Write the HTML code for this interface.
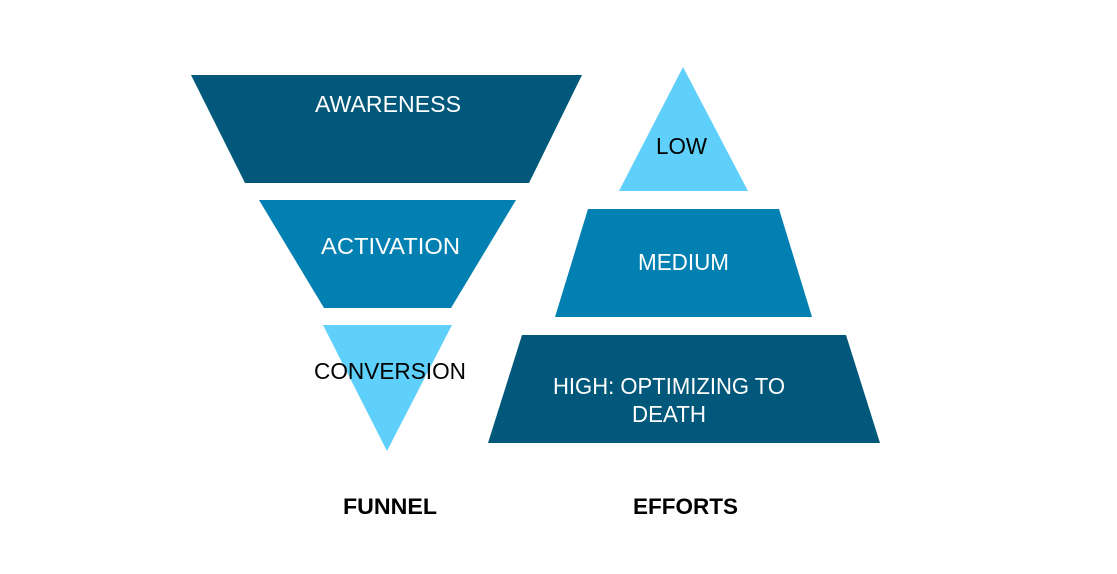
<!DOCTYPE html>
<html><head><meta charset="utf-8"><style>html,body{margin:0;padding:0;background:#fff}svg{display:block}</style></head>
<body>
<svg width="1117" height="574" viewBox="0 0 1117 574" xmlns="http://www.w3.org/2000/svg" font-family="Liberation Sans, Arial, sans-serif">
<rect width="1117" height="574" fill="#fff"/>
<polygon points="191,75 582,75 529,183 245,183" fill="#02587a"/>
<polygon points="259,200 516,200 451,308 324,308" fill="#0280b1"/>
<polygon points="323,325 452,325 387,451" fill="#5ed0fb"/>
<polygon points="683,67 748,191 619,191" fill="#5ed0fb"/>
<polygon points="588,209 779,209 812,317 555,317" fill="#0280b1"/>
<polygon points="522,335 846,335 880,443 488,443" fill="#02587a"/>
<g font-size="23" fill="#fff">
<text x="315" y="112" textLength="146" lengthAdjust="spacingAndGlyphs">AWARENESS</text>
<text x="321" y="254" textLength="139" lengthAdjust="spacingAndGlyphs">ACTIVATION</text>
<text x="638" y="270" textLength="91" lengthAdjust="spacingAndGlyphs">MEDIUM</text>
<text x="553" y="394" textLength="232" lengthAdjust="spacingAndGlyphs">HIGH: OPTIMIZING TO</text>
<text x="632" y="422" textLength="74" lengthAdjust="spacingAndGlyphs">DEATH</text>
</g>
<g font-size="23" fill="#000">
<text x="656" y="154" textLength="51" lengthAdjust="spacingAndGlyphs">LOW</text>
<text x="314" y="379" textLength="152" lengthAdjust="spacingAndGlyphs">CONVERSION</text>
</g>
<g font-size="22" font-weight="bold" fill="#000">
<text x="343" y="514" textLength="94" lengthAdjust="spacingAndGlyphs">FUNNEL</text>
<text x="633" y="514" textLength="105" lengthAdjust="spacingAndGlyphs">EFFORTS</text>
</g>
</svg>
</body></html>
